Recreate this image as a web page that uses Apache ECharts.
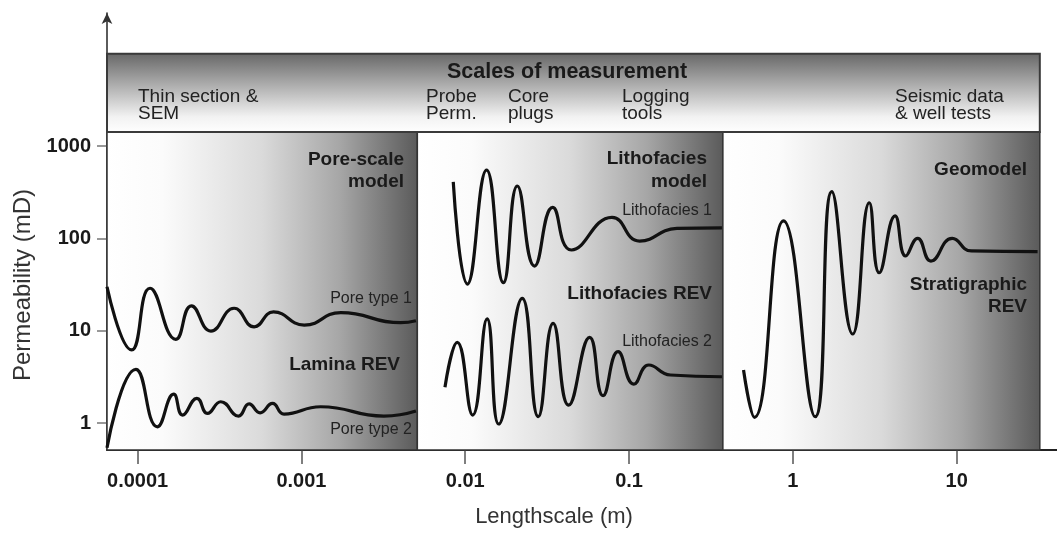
<!DOCTYPE html>
<html>
<head>
<meta charset="utf-8">
<title>Permeability vs lengthscale</title>
<script src="https://cdn.jsdelivr.net/npm/echarts@6/dist/echarts.min.js"></script>
<style>
  html, body { margin: 0; padding: 0; background: #fff; }
  #chart { width: 1057px; height: 534px; }
</style>
</head>
<body>
<div id="chart"></div>
<script>
// ---- Axis extents and ticks (log scales) ----
const X_MIN = 6.5e-5;
const X_MAX = 41;
const Y_MIN = 0.51;
const Y_MAX = 27600;
const X_TICKS = [0.0001, 0.001, 0.01, 0.1, 1, 10];
const Y_TICKS = [1, 10, 100, 1000];

// Model panels (lengthscale boundaries, m) and the measurement-scale band (mD)
const PANEL_EDGES = [X_MIN, 0.0051, 0.374, 32.2];
const PANEL_TOP = 1420;
const BAND_TOP = 10000;

// ---- Permeability curves: [lengthscale (m), permeability (mD)] ----
const poreType1 = [
  [6.5e-5, 29.9], [9.19e-5, 6.18], [1.19e-4, 28.8], [1.71e-4, 8.06],
  [2.13e-4, 18.6], [2.80e-4, 9.91], [3.88e-4, 17.5], [5.14e-4, 11.0],
  [6.75e-4, 16.0], [1.04e-3, 11.5], [1.74e-3, 15.7], [4.03e-3, 12.2],
  [5.0e-3, 12.8]
];
const poreType2 = [
  [6.5e-5, 0.54], [9.76e-5, 3.81], [1.32e-4, 0.91], [1.66e-4, 2.05],
  [1.88e-4, 1.22], [2.30e-4, 1.85], [2.67e-4, 1.27], [3.22e-4, 1.70],
  [4.13e-4, 1.19], [4.79e-4, 1.61], [5.59e-4, 1.29], [6.66e-4, 1.63],
  [7.83e-4, 1.25], [1.31e-3, 1.50], [3.19e-3, 1.19], [5.0e-3, 1.35]
];
const lithofacies1 = [
  [8.45e-3, 410], [1.03e-2, 32.0], [1.35e-2, 550], [1.71e-2, 33.1],
  [2.08e-2, 369], [2.65e-2, 50.1], [3.42e-2, 217], [4.45e-2, 74.8],
  [7.87e-2, 169], [0.116, 93.5], [0.196, 128], [0.369, 130]
];
const lithofacies2 = [
  [7.52e-3, 2.44], [8.94e-3, 7.48], [1.11e-2, 1.22], [1.36e-2, 13.4],
  [1.60e-2, 0.975], [2.23e-2, 22.4], [2.79e-2, 1.17], [3.44e-2, 12.0],
  [4.28e-2, 1.56], [5.75e-2, 8.47], [6.94e-2, 1.98], [8.57e-2, 5.92],
  [0.107, 2.64], [0.132, 4.25], [0.179, 3.31], [0.369, 3.17]
];
const stratigraphic = [
  [0.500, 3.75], [0.583, 1.15], [0.877, 155], [1.37, 1.17],
  [1.73, 320], [2.32, 9.2], [2.93, 243], [3.37, 42.4],
  [4.21, 175], [4.89, 64.4], [5.78, 100], [6.97, 56.8],
  [9.40, 100], [12.3, 73], [31.2, 71.7]
];

// ---- Text ----
const FONT = "'Liberation Sans', Arial, Helvetica, sans-serif";
const BAND_TITLE = 'Scales of measurement';
const METHODS = [
  { text: 'Thin section &\nSEM', x: 138 },
  { text: 'Probe\nPerm.', x: 426 },
  { text: 'Core\nplugs', x: 508 },
  { text: 'Logging\ntools', x: 622 },
  { text: 'Seismic data\n& well tests', x: 895 }
];

const panelFill = {
  type: 'linear', x: 0, y: 0, x2: 1, y2: 0,
  colorStops: [
    { offset: 0, color: '#ffffff' },
    { offset: 0.18, color: '#fbfbfb' },
    { offset: 0.5, color: '#dadada' },
    { offset: 0.75, color: '#a6a6a6' },
    { offset: 1, color: '#5a5a5a' }
  ]
};
const bandFill = {
  type: 'linear', x: 0, y: 0, x2: 0, y2: 1,
  colorStops: [
    { offset: 0, color: '#666666' },
    { offset: 0.35, color: '#a4a4a4' },
    { offset: 0.8, color: '#f2f2f2' },
    { offset: 1, color: '#ffffff' }
  ]
};

function curve(name, data) {
  return {
    name: name,
    type: 'line',
    data: data,
    smooth: 0.5,
    showSymbol: false,
    z: 5,
    lineStyle: { color: '#111', width: 3.2 },
    emphasis: { disabled: true }
  };
}

const panelAreas = [];
for (let i = 0; i < PANEL_EDGES.length - 1; i++) {
  panelAreas.push([
    { xAxis: PANEL_EDGES[i], yAxis: Y_MIN },
    { xAxis: PANEL_EDGES[i + 1], yAxis: PANEL_TOP }
  ]);
}

function label(text, x, y, opts) {
  opts = opts || {};
  return {
    type: 'text',
    x: x, y: y, z: 50,
    style: {
      text: text,
      font: (opts.bold ? 'bold ' : '') + (opts.size || 19) + 'px ' + FONT,
      fill: opts.color || '#1a1a1a',
      align: opts.align || 'right',
      verticalAlign: opts.valign || 'middle',
      lineHeight: opts.lh || 22
    }
  };
}

const graphics = [
  label(BAND_TITLE, 567, 72, { bold: true, size: 21.5, align: 'center' }),
  label('Pore-scale\nmodel', 404, 171, { bold: true }),
  label('Lamina REV', 400, 365, { bold: true }),
  label('Pore type 1', 412, 299, { size: 16, color: '#222' }),
  label('Pore type 2', 412, 430, { size: 16, color: '#222' }),
  label('Lithofacies\nmodel', 707, 170, { bold: true, lh: 23 }),
  label('Lithofacies 1', 712, 211, { size: 16, color: '#222' }),
  label('Lithofacies REV', 712, 294, { bold: true }),
  label('Lithofacies 2', 712, 342, { size: 16, color: '#222' }),
  label('Geomodel', 1027, 170, { bold: true }),
  label('Stratigraphic\nREV', 1027, 296, { bold: true })
];
METHODS.forEach(function (m) {
  graphics.push(label(m.text, m.x, 88, { size: 19, color: '#222', align: 'left', valign: 'top', lh: 17.5 }));
});

const chart = echarts.init(document.getElementById('chart'), null, { renderer: 'canvas' });
chart.setOption({
  animation: false,
  backgroundColor: '#ffffff',
  grid: { left: 107, right: 0, top: 13, bottom: 84, containLabel: false },
  xAxis: {
    type: 'log',
    logBase: 10,
    min: X_MIN,
    max: X_MAX,
    name: 'Lengthscale (m)',
    nameLocation: 'middle',
    nameGap: 56,
    nameTextStyle: { fontFamily: FONT, fontSize: 22, color: '#333', padding: [0, 56, 0, 0] },
    axisLine: { show: true, lineStyle: { color: '#222', width: 2 } },
    axisTick: { show: true, customValues: X_TICKS, length: 14, lineStyle: { color: '#555', width: 1.5 } },
    axisLabel: {
      customValues: X_TICKS,
      margin: 21,
      fontFamily: FONT, fontSize: 20, fontWeight: 'bold', color: '#1a1a1a',
      formatter: function (v) { return String(v); }
    },
    splitLine: { show: false },
    minorTick: { show: false },
    minorSplitLine: { show: false }
  },
  yAxis: {
    type: 'log',
    logBase: 10,
    min: Y_MIN,
    max: Y_MAX,
    name: 'Permeability (mD)',
    nameLocation: 'middle',
    nameGap: 70,
    nameTextStyle: { fontFamily: FONT, fontSize: 24, color: '#333', padding: [0, 107, 0, 0] },
    axisLine: {
      show: true,
      symbol: ['none', 'arrow'],
      symbolSize: [8, 11],
      lineStyle: { color: '#333', width: 1.6 }
    },
    axisTick: { show: true, customValues: Y_TICKS, length: 10, lineStyle: { color: '#777', width: 1.5 } },
    axisLabel: {
      customValues: Y_TICKS,
      margin: 16,
      fontFamily: FONT, fontSize: 20, fontWeight: 'bold', color: '#1a1a1a',
      formatter: function (v) { return String(v); }
    },
    splitLine: { show: false },
    minorTick: { show: false },
    minorSplitLine: { show: false }
  },
  series: [
    {
      name: 'panels',
      type: 'line',
      data: [],
      z: 1,
      silent: true,
      markArea: {
        silent: true,
        itemStyle: { color: panelFill, borderColor: '#333', borderWidth: 1.5 },
        label: { show: false },
        data: panelAreas.concat([[
          { xAxis: X_MIN, yAxis: PANEL_TOP, itemStyle: { color: bandFill, borderColor: '#3a3a3a', borderWidth: 2 } },
          { xAxis: PANEL_EDGES[PANEL_EDGES.length - 1], yAxis: BAND_TOP }
        ]])
      }
    },
    curve('Pore type 1', poreType1),
    curve('Pore type 2', poreType2),
    curve('Lithofacies 1', lithofacies1),
    curve('Lithofacies 2', lithofacies2),
    curve('Stratigraphic', stratigraphic)
  ],
  graphic: graphics
});
</script>
</body>
</html>
